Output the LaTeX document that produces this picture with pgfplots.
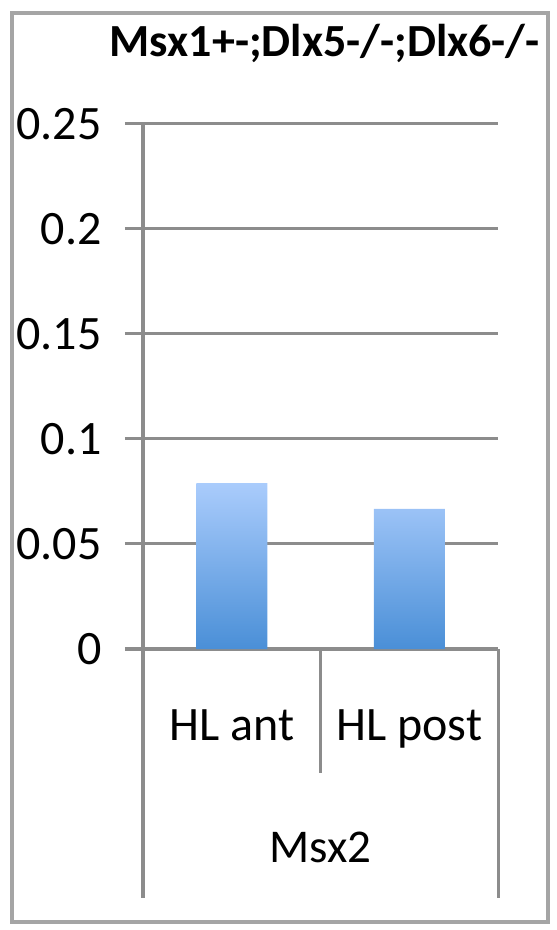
\documentclass[border=0pt]{standalone}
\usepackage{pgfplots}
\pgfplotsset{compat=1.18}
\usepackage{fontspec}
\setmainfont{Carlito}
\definecolor{gridgray}{RGB}{140,140,140}
\definecolor{framegray}{RGB}{165,165,165}
\definecolor{bartop}{RGB}{170,204,252}
\definecolor{barbot}{RGB}{74,143,215}
\begin{document}
\begin{tikzpicture}
\useasboundingbox (0,0) rectangle (557bp,930bp);
\draw[framegray, line width=3.5bp] (12bp,8bp) rectangle (548bp,917bp);
\node[anchor=base east, inner sep=0pt, font=\fontsize{46bp}{50bp}\selectfont\bfseries] at (540bp,873bp) {Msx1+-;Dlx5-/-;Dlx6-/-};
\begin{axis}[
  at={(143bp,281bp)}, anchor=south west,
  scale only axis, width=355bp, height=525bp,
  xmin=0, xmax=2, ymin=0, ymax=0.25,
  ytick={0,0.05,0.1,0.15,0.2,0.25},
  scaled y ticks=false,
  yticklabel style={/pgf/number format/fixed, /pgf/number format/precision=2, xshift=-20bp},
  /pgf/number format/assume math mode=true,
  xtick={0.5,1.5}, xticklabels={HL ant, HL post},
  xtick style={draw=none},
  ytick style={gridgray, line width=3bp},
  major tick length=18bp, tick align=outside,
  ymajorgrids, grid style={gridgray, line width=3bp},
  axis x line*=bottom, axis y line*=left,
  axis line style={gridgray, line width=3bp, -},
  ticklabel style={font=\fontsize{48bp}{54bp}\selectfont},
  xticklabel style={anchor=base, yshift=-73bp},
  xlabel={Msx2},
  xlabel style={font=\fontsize{47bp}{54bp}\selectfont, at={(axis description cs:0.5,0)}, anchor=base, yshift=-213bp},
  clip=false,
]
\addplot[ybar, bar width=0.4, draw=none, shading=axis, top color=bartop, bottom color=barbot] coordinates {(0.5,0.079) (1.5,0.0667)};
\draw[gridgray, line width=3bp] (axis cs:0,0) -- ++(0,-249bp);
\draw[gridgray, line width=3bp] (axis cs:1,0) -- ++(0,-124bp);
\draw[gridgray, line width=3bp] (axis cs:2,0) -- ++(0,-249bp);
\end{axis}
\end{tikzpicture}
\end{document}
